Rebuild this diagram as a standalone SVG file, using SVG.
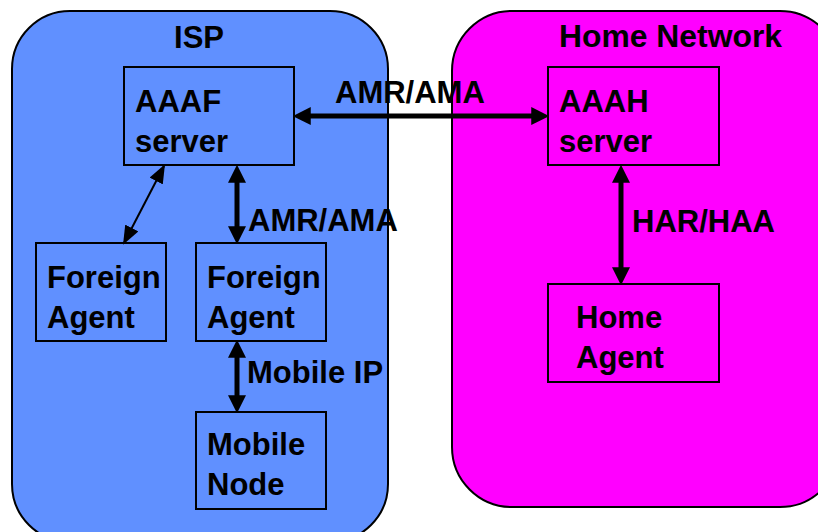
<svg xmlns="http://www.w3.org/2000/svg" width="818" height="532" viewBox="0 0 818 532">
<defs>
<marker id="ah" markerUnits="userSpaceOnUse" markerWidth="18" markerHeight="18" viewBox="0 0 16 16" refX="6" refY="8" orient="auto-start-reverse">
<path d="M0,0 L16,8 L0,16 z" fill="#000"/>
</marker>
<marker id="at" markerUnits="userSpaceOnUse" markerWidth="19" markerHeight="15" viewBox="0 0 18 14" refX="16" refY="7" orient="auto-start-reverse">
<path d="M0,0 L18,7 L0,14 z" fill="#000"/>
</marker>
</defs>
<style>
text{font-family:"Liberation Sans",Arial,sans-serif;font-weight:bold;font-size:31px;fill:#000}
.box{stroke:#000;stroke-width:2}
.isp{fill:#6090ff}
.home{fill:#ff00ff}
.thick{stroke:#000;stroke-width:5;fill:none;marker-start:url(#ah);marker-end:url(#ah)}
.thin{stroke:#000;stroke-width:2;fill:none;marker-start:url(#at);marker-end:url(#at)}
</style>
<rect width="818" height="532" fill="#fff"/>
<g id="isp-region">
<rect x="12" y="11" width="376" height="531" rx="58" ry="58" class="box isp"/>
<text x="199" y="48" text-anchor="middle">ISP</text>
</g>
<g id="home-region">
<rect x="452" y="11" width="388" height="496" rx="60" ry="60" class="box home"/>
<text x="559" y="47" textLength="223" lengthAdjust="spacingAndGlyphs">Home Network</text>
</g>
<g id="aaaf">
<rect x="124" y="67" width="170" height="98" class="box isp"/>
<text x="135" y="112">AAAF</text>
<text x="135" y="152">server</text>
</g>
<g id="aaah">
<rect x="548" y="67" width="171" height="98" class="box home"/>
<text x="559" y="112">AAAH</text>
<text x="559" y="152">server</text>
</g>
<g id="fa1">
<rect x="36" y="243" width="130" height="98" class="box isp"/>
<text x="47" y="288">Foreign</text>
<text x="47" y="328">Agent</text>
</g>
<g id="fa2">
<rect x="196" y="243" width="130" height="98" class="box isp"/>
<text x="207" y="288">Foreign</text>
<text x="207" y="328">Agent</text>
</g>
<g id="mn">
<rect x="196" y="412" width="130" height="97" class="box isp"/>
<text x="207" y="455">Mobile</text>
<text x="207" y="495">Node</text>
</g>
<g id="ha">
<rect x="548" y="284" width="171" height="98" class="box home"/>
<text x="576" y="328">Home</text>
<text x="576" y="368">Agent</text>
</g>
<g id="connectors">
<line x1="304" y1="116" x2="538" y2="116" class="thick"/>
<line x1="164" y1="166" x2="124" y2="243" class="thin"/>
<line x1="237" y1="176" x2="237" y2="233" class="thick"/>
<line x1="237" y1="351" x2="237" y2="402" class="thick"/>
<line x1="621" y1="176" x2="621" y2="274" class="thick"/>
<text x="335" y="103">AMR/AMA</text>
<text x="248" y="231">AMR/AMA</text>
<text x="632" y="232">HAR/HAA</text>
<text x="247" y="383">Mobile IP</text>
</g>
</svg>
